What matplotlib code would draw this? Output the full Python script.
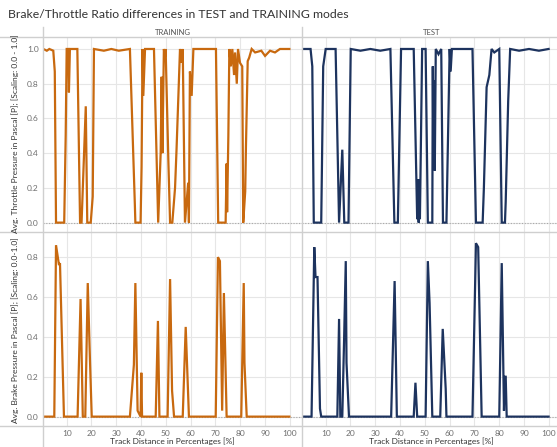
import matplotlib
matplotlib.use("Agg")
import matplotlib.pyplot as plt
from matplotlib.lines import Line2D

plt.rcParams['font.family'] = ['Lato', 'DejaVu Sans']

# ---- data ----
train_thr_x = [0.6, 2, 3, 4.6, 5.2, 5.7, 9.0, 9.6, 10.0, 10.6, 10.9, 11.3, 14.3, 15.4, 16.0, 17.7,
               18.3, 19.7, 20.5, 21.0, 25, 28, 31, 35.5, 37.5, 37.7, 39.8, 40.2, 40.6, 40.9, 41.6,
               45.2, 46.9, 47.9, 48.3, 48.6, 49.2, 49.6, 49.9, 51.0, 51.7, 52.6, 53.7, 54.3, 55.7,
               56.4, 56.8, 57.7, 59.0, 59.3, 59.7, 60.4, 61.1, 70.2, 71.1, 74.1, 74.5, 74.7, 75.2,
               75.6, 76.2, 76.8, 77.5, 77.9, 78.6, 79.1, 79.9, 80.8, 81.2, 82.0, 82.3, 83.0, 83.6,
               84.6, 86, 88.5, 90, 92, 94, 96, 99.8]
train_thr_y = [1.0, 0.99, 1.0, 0.99, 0.87, 0.0, 0.0, 0.5, 1.0, 1.0, 0.75, 1.0, 1.0, 0.0, 0.0, 0.67,
               0.0, 0.0, 0.15, 1.0, 0.99, 1.0, 0.99, 1.0, 0.1, 0.0, 0.0, 0.32, 1.0, 0.73, 1.0,
               1.0, 0.0, 0.4, 0.84, 0.4, 1.0, 0.95, 1.0, 0.36, 0.0, 0.0, 0.2, 0.42, 1.0,
               0.92, 1.0, 0.0, 0.23, 0.0, 0.87, 0.73, 1.0, 1.0, 0.0, 0.0, 0.34, 0.06, 0.5,
               1.0, 0.9, 1.0, 0.85, 0.98, 0.8, 1.0, 0.92, 0.9, 0.0, 0.18, 0.44, 0.93, 0.95,
               1.0, 0.98, 0.99, 0.96, 0.99, 0.98, 1.0, 1.0]

test_thr_x = [0.5, 3.9, 4.6, 5.2, 8.2, 8.5, 9.0, 10.0, 14.0, 15.4, 16.7, 17.5, 19.2, 20.1, 24, 28,
              32, 36.1, 37.7, 39.1, 40.4, 45.5, 46.9, 47.2, 47.5, 47.8, 48.0, 48.9, 50.3, 51.2,
              53.0, 53.2, 53.4, 53.6, 54.0, 54.4, 55.5, 56.6, 57.3, 58.7, 60.0, 60.4, 60.9, 69.2,
              70.6, 73.3, 73.8, 74.9, 76.0, 76.9, 78, 80.0, 81.0, 82.3, 82.6, 83.6, 84.4, 88, 92,
              96, 99.9]
test_thr_y = [1.0, 1.0, 0.9, 0.0, 0.0, 0.33, 0.9, 1.0, 1.0, 0.0, 0.42, 0.0, 0.0, 1.0, 0.99, 1.0,
              0.99, 1.0, 0.0, 0.0, 1.0, 1.0, 0.02, 0.25, 0.0, 0.25, 0.02, 1.0, 1.0, 0.0,
              0.0, 0.9, 0.44, 0.82, 0.3, 1.0, 0.97, 1.0, 0.0, 0.0, 1.0, 0.87, 1.0, 1.0,
              0.0, 0.0, 0.2, 0.78, 0.85, 1.0, 0.98, 1.0, 0.0, 0.0, 0.12, 0.7, 1.0, 0.99, 1.0,
              0.99, 1.0]

train_brk_x = [0.6, 5.0, 5.7, 6.9, 7.3, 8.9, 14.4, 15.6, 16.2, 16.5, 17.5, 18.5, 19.4, 20.1, 35.5,
               37.1, 37.7, 38.6, 39.8, 40.1, 40.4, 45.9, 46.8, 47.4, 50.7, 51.7, 52.5, 53.3, 56.8,
               58.0, 59.3, 70.1, 71.0, 71.8, 72.7, 73.4, 74.5, 80.4, 81.4, 81.7, 82.6, 99.8]
train_brk_y = [0.0, 0.0, 0.86, 0.76, 0.77, 0.0, 0.0, 0.59, 0.2, 0.0, 0.0, 0.67, 0.28, 0.0, 0.0,
               0.26, 0.67, 0.03, 0.0, 0.22, 0.0, 0.0, 0.48, 0.0, 0.0, 0.69, 0.13, 0.0, 0.0,
               0.45, 0.0, 0.0, 0.8, 0.78, 0.03, 0.62, 0.0, 0.0, 0.67, 0.27, 0.0, 0.0]

test_brk_x = [0.5, 4.3, 5.4, 5.9, 6.7, 7.7, 8.2, 14.7, 15.4, 15.9, 16.7, 17.4, 18.1, 18.4, 19.4,
              36.4, 37.8, 38.7, 45.5, 46.2, 46.9, 50.3, 51.2, 51.9, 53.0, 56.2, 57.2, 58.4, 58.7,
              69.2, 70.6, 71.5, 72.9, 80.0, 81.0, 81.9, 82.3, 82.6, 83.0, 99.9]
test_brk_y = [0.0, 0.0, 0.85, 0.7, 0.7, 0.04, 0.0, 0.0, 0.49, 0.0, 0.0, 0.37, 0.78, 0.27, 0.0,
              0.0, 0.68, 0.0, 0.0, 0.17, 0.0, 0.0, 0.78, 0.57, 0.0, 0.0, 0.44, 0.14, 0.0,
              0.0, 0.87, 0.85, 0.0, 0.0, 0.77, 0.03, 0.2, 0.2, 0.0, 0.0]

modes = ['TRAINING', 'TEST']
colors = {'TRAINING': '#c8690f', 'TEST': '#1d335e'}
x_ticks = [10, 20, 30, 40, 50, 60, 70, 80, 90, 100]
thr_ticks = [0.0, 0.2, 0.4, 0.6, 0.8, 1.0]
brk_ticks = [0.0, 0.2, 0.4, 0.6, 0.8]

W, H = 557, 447
fig = plt.figure(figsize=(W / 100, H / 100), dpi=100)


def box(px0, py0, px1, py1):
    return [px0 / W, 1 - py1 / H, (px1 - px0) / W, (py1 - py0) / H]


grid_c = '#e6e6e6'
sep_c = '#cfcfcf'
tick_c = '#6e6e6e'

col_x = [(43, 302), (302, 561)]
rows = [(37, 232, (-0.054, 1.069), thr_ticks), (232, 426, (-0.047, 0.926), brk_ticks)]
series = {('TRAINING', 0): (train_thr_x, train_thr_y), ('TEST', 0): (test_thr_x, test_thr_y),
          ('TRAINING', 1): (train_brk_x, train_brk_y), ('TEST', 1): (test_brk_x, test_brk_y)}

for r, (py0, py1, ylim, yt) in enumerate(rows):
    for c, mode in enumerate(modes):
        ax = fig.add_axes(box(col_x[c][0], py0, col_x[c][1], py1))
        ax.set_xlim(0.45, 104.9)
        ax.set_ylim(*ylim)
        ax.set_xticks(x_ticks)
        ax.set_yticks(yt)
        ax.grid(True, color=grid_c, lw=0.8)
        ax.set_axisbelow(True)
        ax.axhline(0, color='#a8a8a8', lw=0.8, ls=(0, (1, 1.5)), zorder=1)
        xs, ys = series[(mode, r)]
        ax.plot(xs, ys, color=colors[mode], lw=1.6, zorder=3, solid_joinstyle='miter')
        for s in ax.spines.values():
            s.set_visible(False)
        ax.tick_params(length=0, labelsize=6, colors=tick_c, pad=3)
        ax.yaxis.set_major_formatter(matplotlib.ticker.FormatStrFormatter('%.1f'))
        if c > 0:
            ax.tick_params(labelleft=False)
        if r == 0:
            ax.tick_params(labelbottom=False)
            ax.text(0.5, 1 + 4 / (py1 - py0), mode, transform=ax.transAxes, ha='center',
                    va='center', fontsize=5.5, color='#555555')
        else:
            ax.text(0.5, -(441 - py1) / (py1 - py0), 'Track Distance in Percentages [%]',
                    transform=ax.transAxes, ha='center', va='center', fontsize=6, color='#333333')

# separators
for py in (37, 232, 426):
    fig.add_artist(Line2D([0, 1], [1 - py / H, 1 - py / H], transform=fig.transFigure,
                          color=sep_c, lw=1))
for px in (43, 302):
    fig.add_artist(Line2D([px / W, px / W], [0, 1 - 27 / H], transform=fig.transFigure,
                          color=sep_c, lw=1))

fig.text(15 / W, 1 - 134 / H, 'Avg. Throttle Pressure in Pascal [P]; [Scaling: 0.0 - 1.0]',
         rotation=90, ha='center', va='center', fontsize=6, color='#333333')
fig.text(15 / W, 1 - 330 / H, 'Avg. Brake Pressure in Pascal [P]; [Scaling: 0.0-1.0]',
         rotation=90, ha='center', va='center', fontsize=6, color='#333333')

fig.text(8 / W, 1 - 15 / H, 'Brake/Throttle Ratio differences in TEST and TRAINING modes',
         ha='left', va='center', fontsize=8.8, color='#333333')

fig.savefig('out.png', dpi=100)
